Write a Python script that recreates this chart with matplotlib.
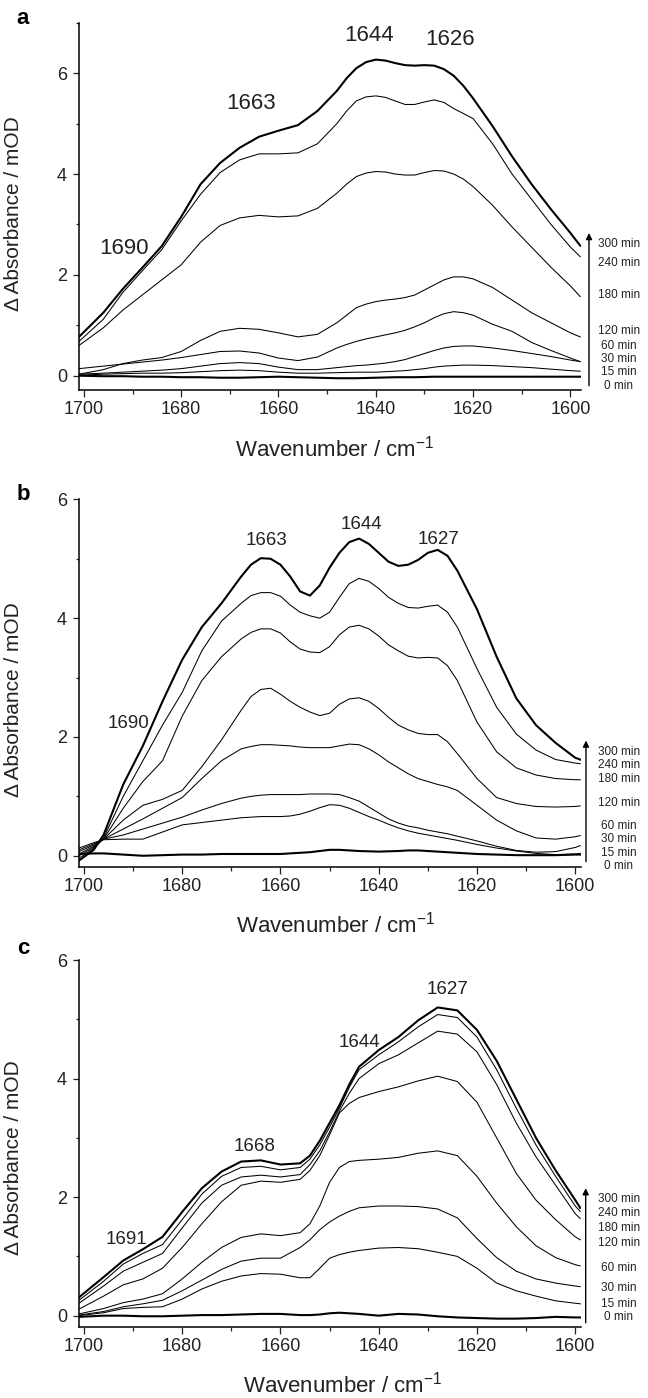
import matplotlib
matplotlib.use("Agg")
import matplotlib.pyplot as plt
from matplotlib.ticker import MultipleLocator
from matplotlib import transforms

plt.rcParams['font.family'] = ['Liberation Sans', 'DejaVu Sans']
plt.rcParams['mathtext.fontset'] = 'custom'
plt.rcParams['mathtext.rm'] = 'Liberation Sans'
plt.rcParams['mathtext.default'] = 'regular'

times = ['0 min', '15 min', '30 min', '60 min', '120 min', '180 min', '240 min', '300 min']

# ---- panel a ----
wn_a = [1701, 1696, 1692, 1688, 1684, 1680, 1676, 1672, 1668, 1664, 1660, 1656, 1652, 1648,
        1646, 1644, 1642, 1640, 1638, 1636, 1634, 1632, 1630, 1628, 1626, 1624, 1622, 1620,
        1616, 1612, 1608, 1604, 1600, 1598]
a_0 = [0.0, -0.01, -0.01, -0.02, -0.02, -0.03, -0.03, -0.04, -0.04, -0.03, -0.02, -0.03, -0.04, -0.05,
       -0.05, -0.05, -0.045, -0.04, -0.035, -0.03, -0.03, -0.03, -0.025, -0.02, -0.02, -0.02, -0.02, -0.02,
       -0.02, -0.02, -0.02, -0.02, -0.02, -0.02]
a_15 = [0.01, 0.03, 0.04, 0.05, 0.05, 0.06, 0.08, 0.1, 0.11, 0.1, 0.07, 0.05, 0.05, 0.06,
        0.065, 0.07, 0.07, 0.07, 0.08, 0.09, 0.1, 0.12, 0.14, 0.17, 0.19, 0.2, 0.21, 0.21,
        0.2, 0.18, 0.16, 0.13, 0.1, 0.09]
a_30 = [0.03, 0.05, 0.07, 0.09, 0.11, 0.14, 0.19, 0.24, 0.26, 0.24, 0.17, 0.12, 0.12, 0.16,
        0.18, 0.2, 0.21, 0.23, 0.25, 0.28, 0.32, 0.38, 0.44, 0.5, 0.55, 0.58, 0.59, 0.59,
        0.55, 0.5, 0.44, 0.38, 0.31, 0.28]
a_60 = [0.14, 0.19, 0.23, 0.27, 0.31, 0.36, 0.42, 0.48, 0.49, 0.45, 0.35, 0.3, 0.37, 0.55,
        0.62, 0.68, 0.73, 0.77, 0.81, 0.85, 0.9, 0.97, 1.05, 1.15, 1.23, 1.27, 1.25, 1.2,
        1.02, 0.88, 0.66, 0.5, 0.35, 0.28]
a_120 = [0.03, 0.12, 0.24, 0.31, 0.36, 0.48, 0.7, 0.88, 0.94, 0.92, 0.85, 0.77, 0.82, 1.05,
         1.2, 1.35, 1.42, 1.47, 1.5, 1.52, 1.55, 1.6, 1.7, 1.8, 1.9, 1.96, 1.96, 1.92,
         1.75, 1.5, 1.25, 1.05, 0.85, 0.77]
a_180 = [0.6, 0.95, 1.3, 1.6, 1.9, 2.2, 2.65, 2.98, 3.13, 3.18, 3.15, 3.17, 3.32, 3.62,
         3.8, 3.95, 4.02, 4.05, 4.04, 4.0, 3.98, 3.98, 4.03, 4.07, 4.06, 4.0, 3.9, 3.75,
         3.38, 2.95, 2.55, 2.15, 1.78, 1.57]
a_240 = [0.68, 1.12, 1.65, 2.08, 2.5, 3.07, 3.6, 4.03, 4.28, 4.4, 4.4, 4.42, 4.6, 5.0,
         5.25, 5.45, 5.53, 5.55, 5.52, 5.45, 5.38, 5.38, 5.43, 5.47, 5.42, 5.3, 5.2, 5.1,
         4.6, 4.0, 3.5, 3.0, 2.55, 2.36]
a_300 = [0.77, 1.25, 1.72, 2.14, 2.57, 3.15, 3.8, 4.22, 4.52, 4.74, 4.86, 4.97, 5.25, 5.65,
         5.9, 6.1, 6.22, 6.27, 6.25, 6.2, 6.16, 6.15, 6.16, 6.15, 6.08, 5.95, 5.75, 5.5,
         4.95, 4.35, 3.8, 3.3, 2.83, 2.58]
peaks_a = ['1690', '1663', '1644', '1626']

# ---- panel b ----
wn_b = [1701, 1698, 1696, 1692, 1688, 1684, 1680, 1676, 1672,
        1668, 1666, 1664, 1662, 1660, 1658, 1656, 1654, 1652, 1650, 1648, 1646, 1644,
        1642, 1640, 1638, 1636, 1634, 1632, 1630, 1628, 1626, 1624,
        1620, 1616, 1612, 1608, 1604, 1600, 1599]
b_0 = [0.03, 0.04, 0.04, 0.02, 0.0, 0.01, 0.02, 0.02, 0.03,
       0.03, 0.03, 0.03, 0.03, 0.03, 0.04, 0.05, 0.06, 0.08, 0.1, 0.1, 0.09, 0.08,
       0.075, 0.07, 0.075, 0.08, 0.09, 0.09, 0.08, 0.07, 0.06, 0.05,
       0.03, 0.02, 0.01, 0.01, 0.01, 0.02, 0.02]
b_15 = [0.13, 0.22, 0.27, 0.28, 0.28, 0.4, 0.52, 0.56, 0.6,
        0.64, 0.65, 0.66, 0.66, 0.66, 0.67, 0.7, 0.75, 0.81, 0.86, 0.85, 0.8, 0.73,
        0.66, 0.6, 0.53, 0.47, 0.42, 0.38, 0.35, 0.32, 0.29, 0.26,
        0.19, 0.13, 0.08, 0.04, 0.02, 0.03, 0.04]
b_30 = [0.1, 0.2, 0.28, 0.35, 0.45, 0.55, 0.65, 0.77, 0.88,
        0.97, 1.0, 1.02, 1.03, 1.03, 1.03, 1.03, 1.04, 1.04, 1.04, 1.03, 0.98, 0.92,
        0.82, 0.72, 0.62, 0.55, 0.5, 0.47, 0.43, 0.4, 0.37, 0.33,
        0.25, 0.16, 0.09, 0.06, 0.07, 0.14, 0.17]
b_60 = [0.07, 0.18, 0.28, 0.45, 0.62, 0.8, 0.98, 1.3, 1.6,
        1.8, 1.84, 1.87, 1.87, 1.86, 1.85, 1.83, 1.82, 1.82, 1.82, 1.85, 1.88, 1.87,
        1.8, 1.7, 1.58, 1.48, 1.38, 1.3, 1.25, 1.2, 1.16, 1.1,
        0.85, 0.6, 0.42, 0.3, 0.28, 0.32, 0.34]
b_120 = [0.03, 0.16, 0.28, 0.6, 0.85, 0.95, 1.1, 1.5, 1.95,
         2.45, 2.68, 2.8, 2.82, 2.72, 2.6, 2.5, 2.42, 2.36, 2.4, 2.55, 2.64, 2.66,
         2.6, 2.48, 2.33, 2.2, 2.12, 2.06, 2.04, 2.04, 1.92, 1.72,
         1.3, 0.98, 0.88, 0.83, 0.82, 0.83, 0.84]
b_180 = [0.0, 0.14, 0.28, 0.8, 1.25, 1.6, 2.35, 2.95, 3.35,
         3.65, 3.76, 3.82, 3.82, 3.75, 3.6, 3.48, 3.43, 3.42, 3.52, 3.72, 3.85, 3.88,
         3.82, 3.7, 3.55, 3.45, 3.36, 3.33, 3.34, 3.33, 3.2, 2.95,
         2.25, 1.75, 1.48, 1.36, 1.3, 1.28, 1.28]
b_240 = [-0.04, 0.12, 0.3, 1.0, 1.6, 2.2, 2.75, 3.45, 3.95,
         4.25, 4.38, 4.43, 4.43, 4.37, 4.22, 4.1, 4.04, 4.0, 4.1, 4.35, 4.58, 4.67,
         4.62, 4.5, 4.35, 4.25, 4.18, 4.17, 4.2, 4.22, 4.1, 3.85,
         3.15, 2.5, 2.05, 1.78, 1.62, 1.56, 1.55]
b_300 = [-0.08, 0.1, 0.35, 1.2, 1.85, 2.6, 3.3, 3.85, 4.25,
         4.7, 4.9, 5.01, 5.0, 4.9, 4.7, 4.45, 4.38, 4.55, 4.85, 5.1, 5.28, 5.34,
         5.25, 5.1, 4.95, 4.88, 4.9, 4.98, 5.1, 5.15, 5.05, 4.8,
         4.15, 3.35, 2.65, 2.2, 1.9, 1.65, 1.62]
peaks_b = ['1690', '1663', '1644', '1627']

# ---- panel c ----
wn_c = [1701, 1696, 1692, 1688, 1684, 1680, 1676, 1672, 1668, 1664, 1660, 1656, 1654, 1652,
        1650, 1648, 1646, 1644, 1640, 1636, 1632, 1628, 1624, 1620, 1616, 1612, 1608, 1604,
        1600, 1599]
c_0 = [-0.02, 0.0, 0.0, -0.01, -0.01, 0.0, 0.01, 0.01, 0.02, 0.03, 0.03, 0.01, 0.01, 0.02,
       0.04, 0.05, 0.04, 0.03, 0.0, 0.03, 0.02, -0.01, -0.03, -0.04, -0.05, -0.05, -0.04, -0.02,
       -0.03, -0.03]
c_15 = [0.0, 0.05, 0.12, 0.14, 0.15, 0.28, 0.45, 0.58, 0.67, 0.71, 0.7, 0.64, 0.64, 0.8,
        0.97, 1.03, 1.07, 1.1, 1.14, 1.15, 1.13, 1.07, 1.0, 0.8, 0.55, 0.42, 0.33, 0.25,
        0.21, 0.2]
c_30 = [0.01, 0.07, 0.15, 0.2, 0.26, 0.42, 0.6, 0.78, 0.92, 0.97, 0.97, 1.15, 1.28, 1.45,
        1.58, 1.68, 1.76, 1.82, 1.85, 1.85, 1.84, 1.8, 1.65, 1.3, 0.98, 0.75, 0.62, 0.55,
        0.5, 0.49]
c_60 = [0.03, 0.12, 0.22, 0.28, 0.37, 0.62, 0.9, 1.15, 1.32, 1.38, 1.35, 1.4, 1.55, 1.85,
        2.25, 2.5, 2.6, 2.62, 2.64, 2.67, 2.74, 2.78, 2.7, 2.35, 1.9, 1.5, 1.18, 0.98,
        0.86, 0.84]
c_120 = [0.11, 0.33, 0.52, 0.62, 0.8, 1.15, 1.55, 1.92, 2.2, 2.27, 2.25, 2.3, 2.45, 2.7,
         3.05, 3.42, 3.58, 3.68, 3.78, 3.86, 3.96, 4.04, 3.95, 3.6, 3.0, 2.4, 1.95, 1.62,
         1.33, 1.28]
c_180 = [0.21, 0.5, 0.75, 0.9, 1.05, 1.48, 1.9, 2.2, 2.34, 2.37, 2.34, 2.38, 2.55, 2.78,
         3.1, 3.45, 3.75, 4.0, 4.25, 4.4, 4.6, 4.8, 4.75, 4.45, 3.9, 3.25, 2.68, 2.2,
         1.72, 1.64]
c_240 = [0.26, 0.58, 0.87, 1.05, 1.2, 1.62, 2.05, 2.35, 2.5, 2.52, 2.46, 2.5, 2.64, 2.88,
         3.18, 3.5, 3.85, 4.15, 4.4, 4.62, 4.87, 5.08, 5.03, 4.7, 4.15, 3.5, 2.88, 2.35,
         1.85, 1.76]
c_300 = [0.31, 0.65, 0.93, 1.12, 1.33, 1.75, 2.15, 2.43, 2.6, 2.62, 2.55, 2.57, 2.7, 2.95,
         3.25, 3.55, 3.9, 4.2, 4.48, 4.7, 4.98, 5.2, 5.15, 4.82, 4.3, 3.65, 3.0, 2.45,
         1.95, 1.82]
peaks_c = ['1691', '1668', '1644', '1627']


def draw_panel(rect, wn, curves, xlim, ylim, peaks, peak_xy, peak_size,
               time_y, arrow_x, arrow_y, letter, letter_y, ylab_y, xlab_x):
    ax = fig.add_axes(rect)
    for i, y in enumerate(curves):
        lw = 1.5 if i in (0, len(curves) - 1) else 0.75
        ax.plot(wn, y, color='black', lw=lw, solid_joinstyle='round')
    ax.set_xlim(*xlim)
    ax.set_ylim(*ylim)
    ax.xaxis.set_major_locator(MultipleLocator(20))
    ax.xaxis.set_minor_locator(MultipleLocator(10))
    ax.yaxis.set_major_locator(MultipleLocator(2))
    ax.yaxis.set_minor_locator(MultipleLocator(1))
    for s in ('top', 'right'):
        ax.spines[s].set_visible(False)
    for s in ('left', 'bottom'):
        ax.spines[s].set_linewidth(1.1)
    ax.tick_params(axis='both', which='both', direction='out', width=0.9,
                   labelsize=13, colors='#222222')
    ax.tick_params(axis='x', which='major', length=4.8, pad=3)
    ax.tick_params(axis='x', which='minor', length=2.9)
    ax.tick_params(axis='y', which='major', length=4.1, pad=4.5)
    ax.tick_params(axis='y', which='minor', length=2.2)

    ax.set_ylabel('\u0394 Absorbance / mOD', fontsize=15, color='#222222')
    ax.yaxis.set_label_coords(-0.111, ylab_y)
    ax.text(xlab_x, -0.18, 'Wavenumber / cm$^{-1}$', transform=ax.transAxes,
            ha='center', va='baseline', fontsize=16, color='#222222')

    for txt, (px, py) in zip(peaks, peak_xy):
        ax.text(px, py, txt, ha='center', va='center', fontsize=peak_size, color='#222222')

    tr = transforms.blended_transform_factory(ax.transAxes, ax.transData)
    for t, ty in zip(times, time_y):
        ax.text(1.076, ty, t, transform=tr, ha='center', va='center',
                fontsize=8.5, color='#222222', clip_on=False)
    ax.annotate('', xy=(arrow_x, arrow_y[1]), xytext=(arrow_x, arrow_y[0]),
                xycoords=tr, textcoords=tr, annotation_clip=False,
                arrowprops=dict(arrowstyle='-|>', lw=1.0, color='black',
                                mutation_scale=9, shrinkA=0, shrinkB=0))
    fig.text(23 / 648, 1 - letter_y / 1398, letter, fontsize=16, fontweight='bold',
             ha='center', va='center')
    return ax


fig = plt.figure(figsize=(6.48, 13.98), dpi=100)

draw_panel([0.1219, 0.7208, 0.7742, 0.2629], wn_a,
           [a_0, a_15, a_30, a_60, a_120, a_180, a_240, a_300],
           (1701.0, 1597.9), (-0.29, 7.0), peaks_a,
           [(1691.8, 2.53), (1665.7, 5.39), (1641.4, 6.74), (1624.8, 6.67)], 16,
           [-0.204, 0.064, 0.331, 0.599, 0.887, 1.6, 2.24, 2.61], 1.0166, (-0.2, 2.83),
           'a', 19, 0.48, 0.51)

draw_panel([0.1219, 0.3800, 0.7742, 0.2628], wn_b,
           [b_0, b_15, b_30, b_60, b_120, b_180, b_240, b_300],
           (1701.0, 1598.9), (-0.185, 6.0), peaks_b,
           [(1691.0, 2.23), (1662.9, 5.30), (1643.6, 5.57), (1627.8, 5.33)], 13.5,
           [-0.173, 0.054, 0.281, 0.508, 0.88, 1.29, 1.52, 1.746], 1.0106, (-0.1, 1.94),
           'b', 495, 0.456, 0.512)

draw_panel([0.1219, 0.0510, 0.7742, 0.2623], wn_c,
           [c_0, c_15, c_30, c_60, c_120, c_180, c_240, c_300],
           (1701.0, 1598.9), (-0.186, 6.0), peaks_c,
           [(1691.3, 1.28), (1665.3, 2.86), (1643.9, 4.60), (1626.0, 5.50)], 13.5,
           [-0.02, 0.2, 0.47, 0.8, 1.23, 1.48, 1.73, 1.97], 1.010, (-0.12, 2.15),
           'c', 948, 0.461, 0.526)

fig.savefig('out.png', dpi=100)
